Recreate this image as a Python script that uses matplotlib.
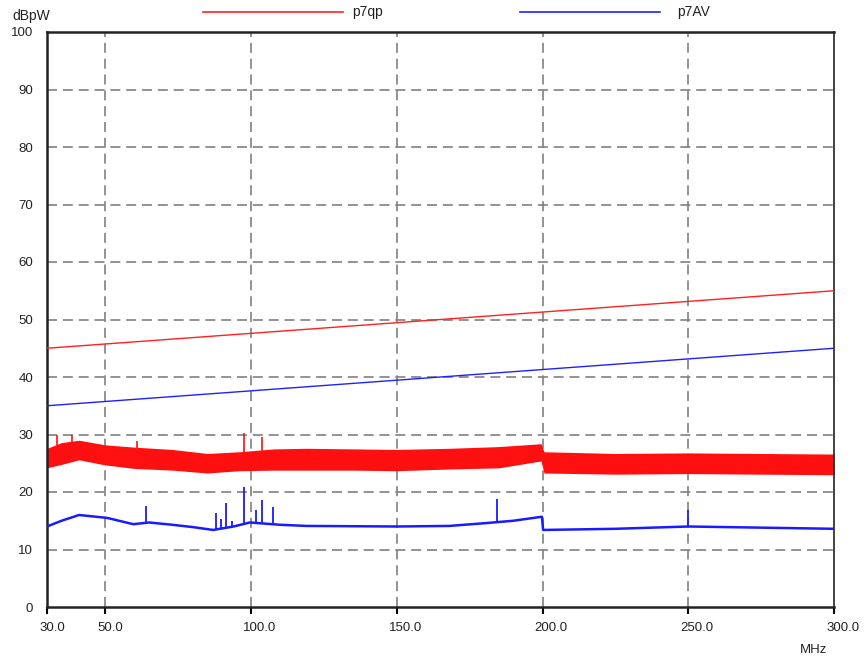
import matplotlib
matplotlib.use("Agg")
import matplotlib.pyplot as plt
import numpy as np
from matplotlib.lines import Line2D
from matplotlib.transforms import ScaledTranslation

plt.rcParams['font.family'] = ['Liberation Sans', 'DejaVu Sans']

# limit lines (MHz, dBpW)
limit_f = [30, 300]
qp_limit = [45, 55]
av_limit = [35, 45]

# p7qp trace, read as a noise envelope (low / high) along frequency
qp_f = [30, 35, 41, 50, 60, 73, 85, 96, 108, 119, 135, 150, 168, 185, 199.5,
        200.5, 225, 250, 275, 300]
qp_low = [24.2, 24.8, 25.6, 24.7, 24.1, 23.8, 23.3, 23.7, 23.8, 23.8, 23.8, 23.7,
          24.0, 24.2, 25.4, 23.3, 23.1, 23.2, 23.1, 23.0]
qp_high = [27.6, 28.6, 29.0, 28.2, 27.8, 27.4, 26.7, 27.0, 27.5, 27.6, 27.5, 27.4,
           27.6, 27.9, 28.4, 27.0, 26.7, 26.8, 26.7, 26.6]
qp_spike_f = [33.4, 38.6, 61.0, 97.6, 103.7]
qp_spike_v = [30.0, 29.9, 28.8, 30.2, 29.6]

# p7AV trace
av_f = [30, 35, 41, 50.6, 59.6, 65, 73, 80, 87, 94, 99.6, 110, 119, 150, 168,
        180.8, 190, 199.8, 200.2, 225, 250, 275, 300]
av_v = [14.0, 15.0, 16.0, 15.5, 14.4, 14.7, 14.3, 13.9, 13.4, 14.0, 14.7, 14.3,
        14.1, 14.0, 14.1, 14.6, 15.0, 15.7, 13.4, 13.6, 14.0, 13.8, 13.6]
av_spike_f = [64.0, 88.0, 89.7, 91.4, 93.5, 97.6, 101.7, 103.7, 107.5, 184.4, 250.0]
av_spike_v = [17.6, 16.3, 15.3, 18.1, 14.9, 20.9, 16.8, 18.6, 17.4, 18.7, 16.8]

x_ticks = [30, 50, 100, 150, 200, 250, 300]
y_ticks = list(range(0, 101, 10))

fig = plt.figure(figsize=(8.65, 6.56), dpi=100)
ax = fig.add_axes([47 / 865, 49 / 656, 787 / 865, 575 / 656])

grid_kw = dict(color='#808080', lw=1.2, ls=(0, (6, 3.5)), zorder=1)
for x in x_ticks[1:-1]:
    ax.axvline(x, **grid_kw)
for y in y_ticks[1:-1]:
    ax.axhline(y, **grid_kw)

ax.plot(limit_f, qp_limit, color='#ff2020', lw=1, zorder=3)
ax.plot(limit_f, av_limit, color='#2020ff', lw=1, zorder=3)

ax.fill_between(qp_f, qp_low, qp_high, color='#ff1010', lw=0, zorder=2)
qp_mid = np.interp(qp_spike_f, qp_f, qp_high)
ax.vlines(qp_spike_f, qp_mid - 0.5, qp_spike_v, color='#ff1010', lw=1.2, zorder=2)

ax.plot(av_f, av_v, color='#1a1aff', lw=1.8, zorder=3)
av_base = np.interp(av_spike_f, av_f, av_v)
ax.vlines(av_spike_f, av_base, av_spike_v, color='#1a1aff', lw=1.3, zorder=3)

ax.set_xlim(30, 300)
ax.set_ylim(0, 100)
ax.set_xticks(x_ticks)
ax.set_xticklabels([f"{v:.1f}" for v in x_ticks])
ax.set_yticks(y_ticks)
ax.tick_params(axis='y', length=0, pad=10, labelsize=9.5, labelcolor='#222222')
ax.tick_params(axis='x', direction='out', length=5, width=1.5, pad=6,
               labelsize=9.5, labelcolor='#222222')
for lab in ax.get_xticklabels():
    lab.set_horizontalalignment('left')
    lab.set_transform(lab.get_transform() + ScaledTranslation(-8 / 100, 0, fig.dpi_scale_trans))
for side in ['left', 'bottom', 'top']:
    ax.spines[side].set_linewidth(1.8)
ax.spines['right'].set_linewidth(1.2)
for s in ax.spines.values():
    s.set_color('#222222')

fig.text(12 / 865, 1 - 16 / 656, 'dBpW', fontsize=10, color='#222222', va='center', ha='left')
fig.text(800 / 865, 1 - 650 / 656, 'MHz', fontsize=9.5, color='#222222', va='center', ha='left')

ly = 1 - 12 / 656
fig.add_artist(Line2D([203 / 865, 343 / 865], [ly, ly], color='#ff2020', lw=1.2))
fig.text(352 / 865, ly, 'p7qp', fontsize=10, color='#222222', va='center', ha='left')
fig.add_artist(Line2D([520 / 865, 660 / 865], [ly, ly], color='#2020ff', lw=1.2))
fig.text(677 / 865, ly, 'p7AV', fontsize=10, color='#222222', va='center', ha='left')

fig.savefig('out.png', dpi=100)
